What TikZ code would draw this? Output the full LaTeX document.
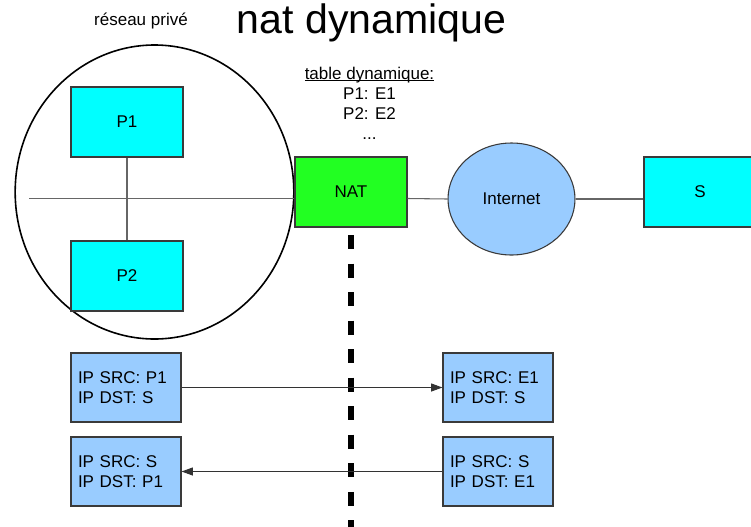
\documentclass[tikz,border=0pt]{standalone}
\usepackage{fontspec}
\setmainfont{Liberation Sans}
\usetikzlibrary{shapes.geometric,arrows.meta}

\definecolor{hostcyan}{HTML}{00FFFF}
\definecolor{natgreen}{HTML}{22FF22}
\definecolor{netblue}{HTML}{99CCFF}
\definecolor{edgegray}{HTML}{3A3A3A}
\definecolor{linkgray}{HTML}{666666}

\tikzset{
  txt/.style={font=\fontsize{12.75}{15}\selectfont},
  box/.style={draw=edgegray, line width=0.8pt, rectangle, inner sep=0pt,
    minimum width=84pt, minimum height=52.5pt, txt},
  host/.style={box, fill=hostcyan},
  router/.style={box, fill=natgreen},
  pkt/.style={draw=edgegray, line width=0.8pt, fill=netblue, rectangle,
    minimum height=51.75pt, inner xsep=5.25pt, inner ysep=0pt,
    text width=72pt, align=left, txt},
  link/.style={draw=linkgray, line width=0.8pt},
  flow/.style={draw=black!80, line width=0.7pt,
    -{Triangle[length=8.5pt,width=6pt]}},
}

% underline set close to the baseline
\newcommand{\tightul}[1]{\setbox0\hbox{#1}\rlap{\rule[-1.6pt]{\wd0}{0.6pt}}\box0}

\begin{document}
\begin{tikzpicture}[x=0.75pt,y=-0.75pt]
  \useasboundingbox (0,0) rectangle (751,526);
  \clip (0,0) rectangle (751,526);

  % titles
  \node[anchor=base, inner sep=0pt, font=\fontsize{30.8}{36}\selectfont]
    (title) at (371.5,33) {nat dynamique};
  \node[anchor=base, inner sep=0pt, txt] (lanlabel) at (141,25) {réseau privé};

  % private network
  \node[draw=black, line width=1.2pt, ellipse, minimum width=209pt,
    minimum height=220.5pt, inner sep=0pt] (lan) at (154.5,192) {};
  \coordinate (bus) at (29,198.5);

  \node[host] (p1) at (127,122) {P1};
  \node[host] (p2) at (127,276) {P2};
  \node[router] (nat) at (351,192) {NAT};
  \node[draw=edgegray, line width=0.8pt, fill=netblue, ellipse,
    minimum width=95.25pt, minimum height=84pt, inner sep=0pt, txt]
    (inet) at (511.5,199) {Internet};
  \node[host] (srv) at (700,192) {S};

  % translation table
  \node[anchor=north, inner sep=0pt, align=center,
    font=\fontsize{12.75}{15.2}\selectfont]
    (table) at (369.5,66.5)
    {\tightul{table dynamique:}\\P1: E1\\P2: E2\\...};

  % links
  \draw[link] (bus) -- (bus -| nat.west);
  \draw[link] (p1.south) -- (p2.north);
  \draw[link] (nat.east |- bus) -- (inet.west);
  \draw[link] (inet.east) -- (inet.east -| srv.west);

  % NAT boundary
  \coordinate (cuttop) at (351,235);
  \coordinate (cutbot) at (351,530);
  \draw[line width=4.5pt, dash pattern=on 10.5pt off 10.9pt] (cuttop) -- (cutbot);

  % packets
  \node[pkt] (out1) at (126,387.5) {IP SRC: P1\\IP DST: S};
  \node[pkt] (out2) at (498,387.5) {IP SRC: E1\\IP DST: S};
  \node[pkt] (in1) at (126,471.5) {IP SRC: S\\IP DST: P1};
  \node[pkt] (in2) at (498,471.5) {IP SRC: S\\IP DST: E1};

  \draw[flow] (out1) -- (out2);
  \draw[flow] (in2) -- (in1);
\end{tikzpicture}
\end{document}
